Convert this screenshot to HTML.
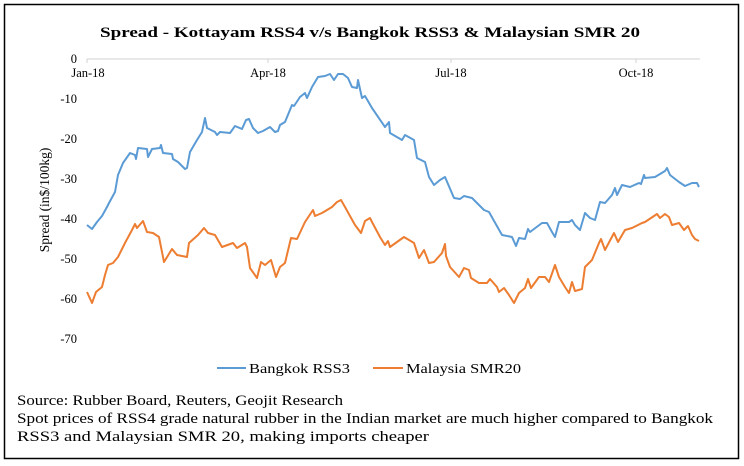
<!DOCTYPE html>
<html><head><meta charset="utf-8"><style>
html,body{margin:0;padding:0;background:#fff;}
svg{display:block;}
text{font-family:"Liberation Serif",serif;fill:#000;}
</style></head><body>
<svg width="744" height="466" viewBox="0 0 744 466" xmlns="http://www.w3.org/2000/svg">
<rect x="4.5" y="4.5" width="734" height="454" fill="#fff" stroke="#000" stroke-width="1.5"/>
<text x="370" y="37" text-anchor="middle" font-size="15" font-weight="bold" textLength="540" lengthAdjust="spacingAndGlyphs">Spread - Kottayam RSS4 v/s Bangkok RSS3 &amp; Malaysian SMR 20</text>
<line x1="87" y1="59" x2="700" y2="59" stroke="#d0d0d0" stroke-width="1"/>
<g stroke="#d0d0d0"><line x1="87" y1="59" x2="87" y2="63"/><line x1="268" y1="59" x2="268" y2="63"/><line x1="451" y1="59" x2="451" y2="63"/><line x1="636" y1="59" x2="636" y2="63"/></g>
<g font-size="12.5" text-anchor="end">
<text x="77" y="63">0</text><text x="77" y="103">-10</text><text x="77" y="143">-20</text><text x="77" y="183">-30</text><text x="77" y="223">-40</text><text x="77" y="263">-50</text><text x="77" y="303">-60</text><text x="77" y="343">-70</text>
</g>
<g font-size="12.5" text-anchor="middle">
<text x="88" y="77">Jan-18</text><text x="268" y="77">Apr-18</text><text x="451" y="77">Jul-18</text><text x="636" y="77">Oct-18</text>
</g>
<text transform="translate(49,200) rotate(-90)" font-size="13.5" text-anchor="middle">Spread (in$/100kg)</text>
<polyline fill="none" stroke="#5b9bd5" stroke-width="2" stroke-linejoin="round" points="87,225 92,229 97,222 102,216 107,207 109,203 115,192 118,175 123,163 130,153 135,155 136,159 138,148 147,149 148,157 152,149 160,148 161,145 163,153 172,154 173,159 178,162 185,169 187,168 190,152 197,140 202,132 205,118 207,128 215,132 217,135 220,132 230,133 235,126 242,129 246,120 249,119 253,128 258,133 263,131 270,127 275,132 278,131 280,125 285,122 292,105 294,106 300,97 305,93 307,98 312,87 318,77 325,76 330,74 334,80 338,74 343,74 348,78 352,87 357,88 358,80 362,98 365,96 372,108 385,127 389,122 390,133 402,140 405,135 414,140 417,158 425,162 429,177 434,185 440,180 445,177 454,198 460,199 464,196 472,198 484,210 489,212 502,235 512,237 516,246 519,238 525,239 528,229 530,232 542,223 547,223 552,232 555,237 559,222 569,222 572,220 575,225 580,230 585,213 590,218 595,220 600,202 605,203 612,195 615,188 617,195 622,185 630,187 639,183 641,184 644,175 645,178 655,177 660,174 665,171 667,168 670,175 679,182 685,186 692,183 697,183 699,187"/>
<polyline fill="none" stroke="#ed7d31" stroke-width="2" stroke-linejoin="round" points="87,292 92,303 96,292 102,287 105,275 108,265 113,263 118,257 125,243 132,230 135,224 137,228 143,221 147,232 153,233 159,237 164,262 172,249 177,255 187,257 189,243 198,235 204,228 208,233 215,235 222,247 233,243 237,248 245,243 247,247 250,268 257,278 261,262 265,265 271,260 276,277 280,267 285,263 291,238 297,239 305,222 313,210 315,216 322,213 332,207 337,202 341,200 345,207 355,225 361,233 365,221 370,218 372,222 380,237 385,245 388,241 390,247 404,237 414,243 419,258 424,250 429,263 434,262 442,253 445,244 446,256 450,267 459,277 464,268 469,270 471,278 479,283 487,283 490,279 497,287 499,292 504,288 509,295 514,303 519,293 525,288 528,279 531,288 539,277 545,277 549,282 555,265 559,277 565,287 569,293 572,282 575,291 582,289 585,267 592,260 599,243 601,239 605,250 614,233 618,242 625,230 632,228 642,223 645,222 657,214 660,218 665,214 669,217 672,225 679,223 684,230 688,226 692,235 695,239 699,241"/>
<line x1="217" y1="368" x2="246" y2="368" stroke="#5b9bd5" stroke-width="2"/>
<text x="249" y="373" font-size="14" textLength="101" lengthAdjust="spacingAndGlyphs">Bangkok RSS3</text>
<line x1="373" y1="368" x2="403" y2="368" stroke="#ed7d31" stroke-width="2"/>
<text x="406" y="373" font-size="14" textLength="115" lengthAdjust="spacingAndGlyphs">Malaysia SMR20</text>
<g font-size="15">
<text x="17" y="405" textLength="326" lengthAdjust="spacingAndGlyphs">Source: Rubber Board, Reuters, Geojit Research</text>
<text x="17" y="423" textLength="696" lengthAdjust="spacingAndGlyphs">Spot prices of RSS4 grade natural rubber in the Indian market are much higher compared to Bangkok</text>
<text x="17" y="441" textLength="412" lengthAdjust="spacingAndGlyphs">RSS3 and Malaysian SMR 20, making imports cheaper</text>
</g>
</svg>
</body></html>
